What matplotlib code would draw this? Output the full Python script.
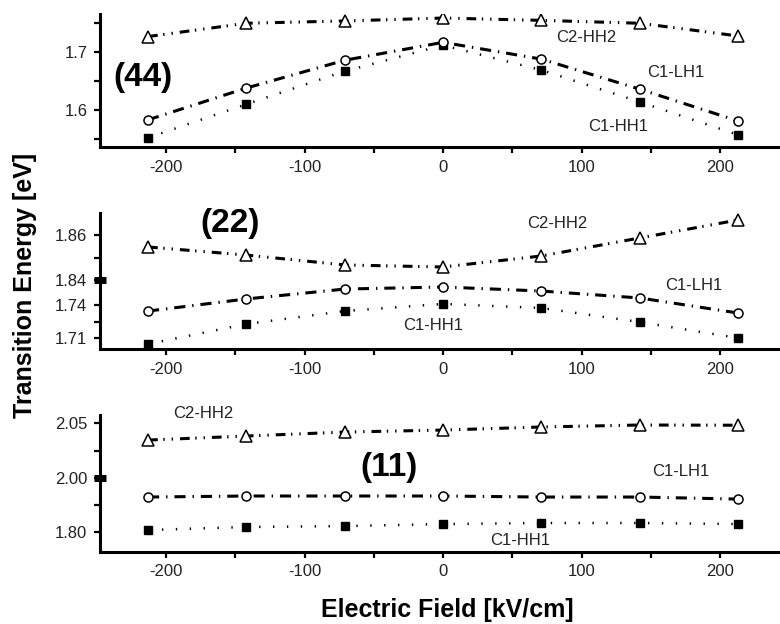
import numpy as np
import matplotlib
matplotlib.use('Agg')
import matplotlib.pyplot as plt

plt.rcParams['font.family'] = ['Liberation Sans', 'DejaVu Sans']
plt.rcParams['lines.scale_dashes'] = False

# electric field values (kV/cm)
field = [-213, -142, -71, 0, 71, 142, 213]

# (44) structure
e44_c2hh2 = [1.727, 1.750, 1.754, 1.759, 1.755, 1.750, 1.728]
e44_c1lh1 = [1.583, 1.638, 1.686, 1.717, 1.688, 1.636, 1.581]
e44_c1hh1 = [1.552, 1.610, 1.667, 1.712, 1.669, 1.614, 1.557]

# (22) structure
e22_c2hh2 = [1.8547, 1.8511, 1.8467, 1.8458, 1.8507, 1.8587, 1.8667]
e22_c1lh1 = [1.7345, 1.7455, 1.7545, 1.7564, 1.7527, 1.7464, 1.7327]
e22_c1hh1 = [1.7045, 1.7227, 1.7345, 1.7410, 1.7373, 1.7245, 1.7100]

# (11) structure
e11_c2hh2 = [2.0345, 2.0382, 2.0418, 2.0436, 2.0464, 2.0482, 2.0480]
e11_c1lh1 = [1.8648, 1.8667, 1.8667, 1.8667, 1.8648, 1.8648, 1.8610]
e11_c1hh1 = [1.8037, 1.8093, 1.8110, 1.8148, 1.8167, 1.8167, 1.8148]

xticks = [-200, -100, 0, 100, 200]
xtick_labels = ['-200', '-100', '0', '100', '200']


def broken(lo_top, hi_bot, s_lo, s_hi):
    # piecewise linear y scale: the gap between lo_top and hi_bot is squeezed out
    gap = 1e-3

    def fwd(y):
        y = np.asarray(y, float)
        mid = (y - lo_top) / (hi_bot - lo_top) * gap
        return np.where(y <= lo_top, (y - lo_top) * s_lo,
                        np.where(y >= hi_bot, gap + (y - hi_bot) * s_hi, mid))

    def inv(u):
        u = np.asarray(u, float)
        mid = lo_top + u / gap * (hi_bot - lo_top)
        return np.where(u <= 0, lo_top + u / s_lo,
                        np.where(u >= gap, hi_bot + (u - gap) / s_hi, mid))
    return fwd, inv


fig = plt.figure(figsize=(7.8, 6.24), dpi=100)
L = 100 / 780
W = 680 / 780
ax1 = fig.add_axes([L, 1 - 147 / 624, W, 133 / 624])
ax2 = fig.add_axes([L, 1 - 349 / 624, W, 136 / 624])
ax3 = fig.add_axes([L, 1 - 552 / 624, W, 137 / 624])

ax2.set_yscale('function', functions=broken(1.7627, 1.84, 1100, 2250))
ax3.set_yscale('function', functions=broken(1.90, 2.00, 540, 1100))

sty_c2 = dict(color='k', lw=2.2, dashes=(7, 4, 1, 5, 1, 5), marker='^',
              ms=9, mfc='white', mec='k', mew=1.1)
sty_lh = dict(color='k', lw=2.2, dashes=(8, 5, 1, 5), marker='o',
              ms=6.5, mfc='white', mec='k', mew=1.1)
sty_hh = dict(color='k', lw=1.8, dashes=(1, 9), marker='s',
              ms=6, mfc='k', mec='k')

panels = [
    (ax1, e44_c2hh2, e44_c1lh1, e44_c1hh1),
    (ax2, e22_c2hh2, e22_c1lh1, e22_c1hh1),
    (ax3, e11_c2hh2, e11_c1lh1, e11_c1hh1),
]

for ax, c2, lh, hh in panels:
    ax.plot(field, hh, **sty_hh)
    ax.plot(field, lh, **sty_lh)
    ax.plot(field, c2, **sty_c2)
    ax.set_xlim(-247.7, 243.3)
    for s in ['top', 'right']:
        ax.spines[s].set_visible(False)
    for s in ['left', 'bottom']:
        ax.spines[s].set_linewidth(2.2)
    ax.set_xticks(xticks, labels=xtick_labels)
    ax.set_xticks([-150, -50, 50, 150], minor=True)
    ax.tick_params(which='both', direction='out', length=4, width=1.6,
                   labelsize=12, pad=5, labelcolor='#222222')

# (44)
ax1.set_ylim(1.536, 1.766)
ax1.set_yticks([1.6, 1.7], labels=['1.6', '1.7'])
ax1.set_yticks([1.55, 1.65, 1.75], minor=True)
# (22)
ax2.set_ylim(1.70, 1.8698)
ax2.set_yticks([1.71, 1.74, 1.84, 1.86], labels=['1.71', '1.74', '1.84', '1.86'])
ax2.set_yticks([1.725, 1.85], minor=True)
# (11)
ax3.set_ylim(1.763, 2.0573)
ax3.set_yticks([1.80, 2.00, 2.05], labels=['1.80', '2.00', '2.05'])
ax3.set_yticks([1.85, 2.025], minor=True)

# axis break marks
for ax, yb in [(ax2, 1.84), (ax3, 2.00)]:
    ax.plot([0], [yb], marker='_', ms=9, mew=5, color='k', clip_on=False,
            transform=ax.get_yaxis_transform())

lab = dict(fontsize=12, ha='left', va='center', color='#222222')
big = dict(fontsize=24, fontweight='bold', ha='left', va='center',
           family=['Liberation Sans Narrow', 'Liberation Sans'])

ax1.text(-238, 1.657, '(44)', **big)
ax1.text(82, 1.726, 'C2-HH2', **lab)
ax1.text(147, 1.665, 'C1-LH1', **lab)
ax1.text(105, 1.571, 'C1-HH1', **lab)

ax2.text(-175, 1.8653, '(22)', **big)
ax2.text(61, 1.8653, 'C2-HH2', **lab)
ax2.text(160, 1.7573, 'C1-LH1', **lab)
ax2.text(-29, 1.7218, 'C1-HH1', **lab)

ax3.text(-195, 2.059, 'C2-HH2', **lab)
ax3.text(-60, 2.010, '(11)', **big)
ax3.text(151, 2.0055, 'C1-LH1', **lab)
ax3.text(34, 1.785, 'C1-HH1', **lab)

fig.text(447 / 780, 1 - 610 / 624, 'Electric Field [kV/cm]', fontsize=18,
         fontweight='bold', ha='center', va='center')
fig.text(25 / 780, 1 - 285 / 624, 'Transition Energy [eV]', fontsize=18,
         fontweight='bold', ha='center', va='center', rotation=90)

fig.savefig('out.png', dpi=100)
